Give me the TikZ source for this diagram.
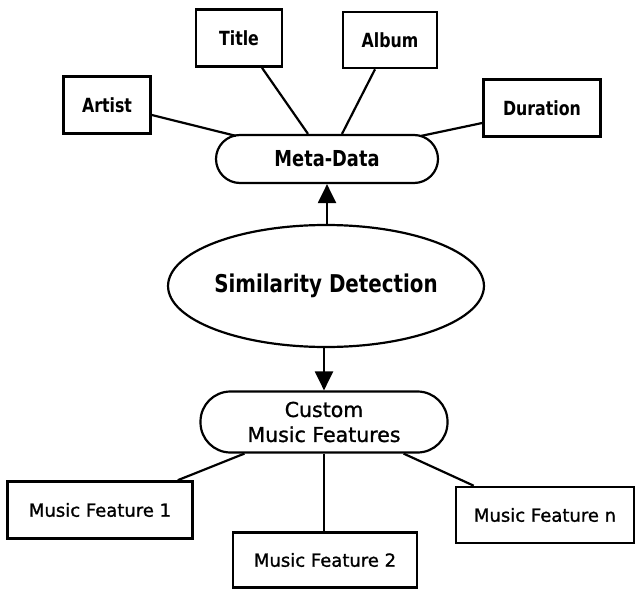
\documentclass[tikz,border=0pt]{standalone}
\usepackage{fontspec}
\setmainfont{DejaVu Sans}
\newfontfamily\narrowbf{DejaVu Sans}[FakeStretch=0.81]
\newfontfamily\medfont{DejaVu Sans}[FakeBold=1.2]
\usetikzlibrary{arrows.meta,calc,shapes.geometric}
\begin{document}
\begin{tikzpicture}[x=1pt,y=-1pt,
  box/.style={draw,line width=2.6pt,rectangle,inner sep=0pt},
  stadium/.style={draw,line width=2.2pt,rectangle,inner sep=0pt},
  oval/.style={draw,line width=2.2pt,ellipse,inner sep=0pt},
  link/.style={line width=2.2pt},
  arr/.style={line width=2.2pt,-{Triangle[length=19pt,width=18pt]}},
  smallbold/.style={font=\narrowbf\bfseries\fontsize{19.5}{23}\selectfont},
  mf/.style={font=\medfont\fontsize{18}{22}\selectfont}
]
\useasboundingbox (0,0) rectangle (636,588);
\node[box,smallbold,minimum width=86pt,minimum height=57pt] (title) at (239,38) {Title};
\node[box,smallbold,minimum width=94pt,minimum height=56pt] (album) at (390,40) {Album};
\node[box,smallbold,minimum width=87pt,minimum height=57pt] (artist) at (107,105) {Artist};
\node[box,smallbold,minimum width=117pt,minimum height=57pt] (duration) at (542,108) {Duration};
\node[stadium,rounded corners=24pt,minimum width=222pt,minimum height=48pt,font=\narrowbf\bfseries\fontsize{22}{26}\selectfont] (meta) at (327,159) {Meta-Data};
\node[oval,minimum width=282pt,minimum height=122pt,font=\narrowbf\bfseries\fontsize{24.5}{28}\selectfont] (sim) at (326,286) {Similarity Detection};
\node[stadium,rounded corners=30pt,minimum width=247pt,minimum height=61pt,align=center,font=\medfont\fontsize{20.5}{25}\selectfont] (custom) at (324,422) {Custom\\Music Features};
\node[box,mf,minimum width=185pt,minimum height=57pt] (mf1) at (100,510) {Music Feature 1};
\node[box,mf,minimum width=184pt,minimum height=55pt] (mf2) at (325,560) {Music Feature 2};
\node[box,mf,minimum width=178pt,minimum height=56pt] (mfn) at (545,515) {Music Feature n};

\draw[link] ($(artist.east)+(0,10)$) -- ($(meta.north west)+(21,2)$);
\draw[link] ($(title.south)+(23,0)$) -- ($(meta.north)+(-19,0)$);
\draw[link] ($(album.south)+(-15,0)$) -- ($(meta.north)+(15,0)$);
\draw[link] ($(duration.west)+(0,15)$) -- ($(meta.north east)+(-18,2)$);
\draw[arr] (sim.north -| meta.south) -- (meta.south);
\draw[arr] (sim.south -| custom.north) -- (custom.north);
\draw[link] ($(mf1.north east)+(-16,0)$) -- ($(custom.south west)+(45,0)$);
\draw[link] (custom.south) -- (custom.south |- mf2.north);
\draw[link] ($(mfn.north west)+(19,0)$) -- ($(custom.south east)+(-45,0)$);
\end{tikzpicture}
\end{document}
